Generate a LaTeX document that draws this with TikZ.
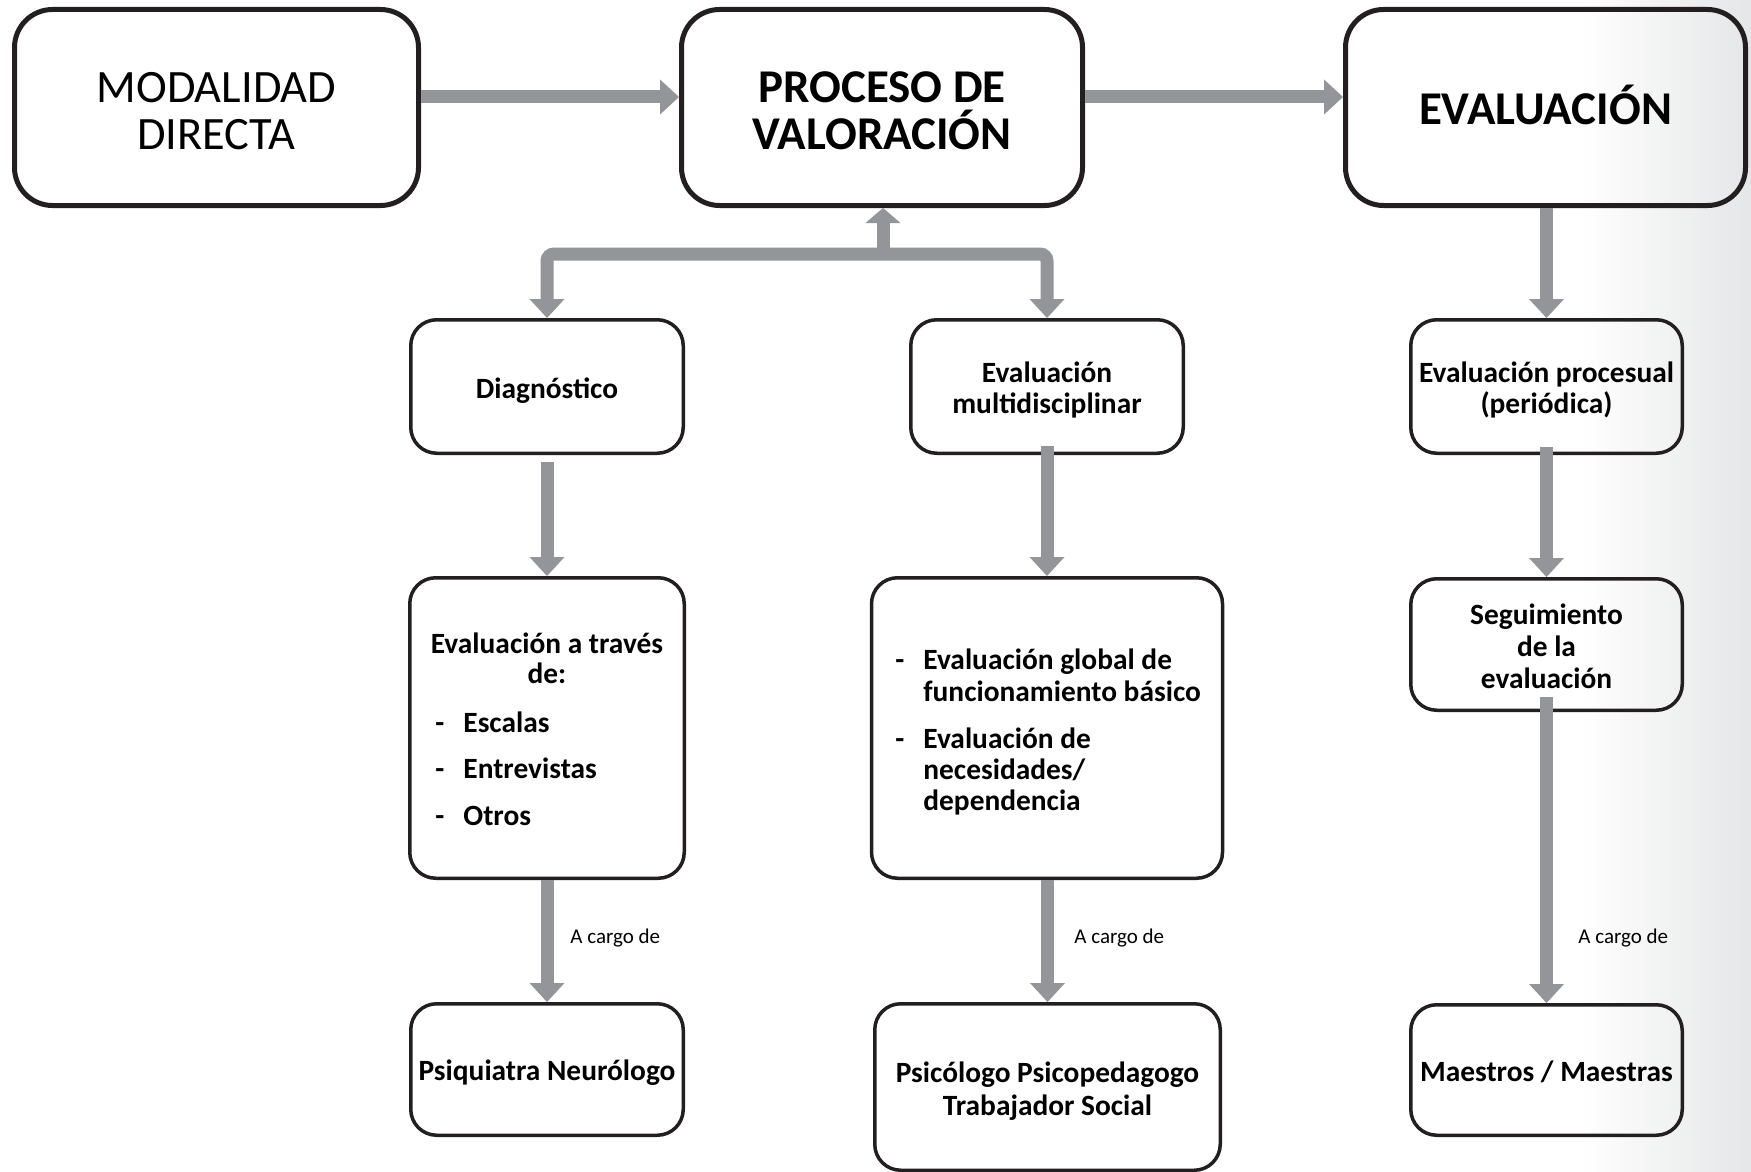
\documentclass[tikz,border=0pt]{standalone}
\usepackage{fontspec}
\setmainfont{Carlito}
\usetikzlibrary{arrows.meta}
\definecolor{arrowgray}{HTML}{939598}
\definecolor{boxline}{HTML}{231F20}
\definecolor{bggray}{HTML}{E6E7E8}
\begin{document}
\begin{tikzpicture}[x=0.5pt,y=-0.5pt,
  topbox/.style={draw=boxline, line width=2.5pt, rounded corners=19pt, minimum height=98pt, inner sep=0pt},
  midbox/.style={draw=boxline, line width=1.75pt, rounded corners=13pt, inner sep=0pt},
  garrow/.style={draw=arrowgray, line width=6.5pt, -{Triangle[width=17.5pt,length=9.5pt,line width=0pt]}},
  garrowup/.style={draw=arrowgray, line width=6.5pt, -{Triangle[width=17.5pt,length=7.5pt,line width=0pt]}},
  tt/.style={inner sep=0pt, anchor=base, font=\fontsize{23.2pt}{27pt}\selectfont},
  tb/.style={inner sep=0pt, anchor=base, font=\bfseries\fontsize{23.5pt}{27pt}\selectfont},
  tm/.style={inner sep=0pt, anchor=base, font=\bfseries\fontsize{14.7pt}{17pt}\selectfont},
  tml/.style={tm, anchor=base west},
  lbl/.style={inner sep=0pt, anchor=base west, font=\fontsize{10.5pt}{12pt}\selectfont}]

\useasboundingbox (0,0) rectangle (1751,1172);
\fill[white] (0,0) rectangle (1751,1172);
\shade[left color=white, right color=bggray] (1580,0) rectangle (1745,1172);
\fill[bggray] (1744,0) rectangle (1751,1172);

% boxes
\node[topbox, minimum width=202pt] (modal) at (216.5,107.5) {};
\node[topbox, minimum width=200.5pt] (proc) at (882,107.5) {};
\node[topbox, minimum width=200pt] (eval) at (1545.5,107.5) {};

\node[midbox, minimum width=136.25pt, minimum height=66.75pt] (diag) at (547,386.5) {};
\node[midbox, minimum width=136.25pt, minimum height=66.75pt] (mult) at (1047,386.5) {};
\node[midbox, minimum width=135.75pt, minimum height=66.75pt] (proc2) at (1546.5,386.5) {};

\node[midbox, minimum width=137.25pt, minimum height=150.25pt] (ev1) at (547,728) {};
\node[midbox, minimum width=175.5pt, minimum height=150.25pt] (ev2) at (1047,728) {};
\node[midbox, minimum width=135.75pt, minimum height=65.75pt] (seg) at (1546.5,644.5) {};

\node[midbox, minimum width=136.25pt, minimum height=65.75pt] (psi) at (547,1069.5) {};
\node[midbox, minimum width=172.75pt, minimum height=83.25pt] (psico) at (1047.5,1087) {};
\node[midbox, minimum width=135.75pt, minimum height=65.25pt] (maes) at (1546.5,1070) {};

% texts
\node[tt] (m1) at (216.5,103) {MODALIDAD};
\node[tt] (m2) at (216.5,149) {DIRECTA};
\node[tb] (p1) at (882,103) {PROCESO DE};
\node[tb] (p2) at (882,149) {VALORACIÓN};
\node[tb] (e1) at (1545.5,125) {EVALUACIÓN};

\node[tm] (d1) at (547,398) {Diagnóstico};
\node[tm] (u1) at (1047,382) {Evaluación};
\node[tm] (u2) at (1047,413) {multidisciplinar};
\node[tm] (r1) at (1546.5,382) {Evaluación procesual};
\node[tm] (r2) at (1546.5,413) {(periódica)};

\node[tm] (a1) at (547,653) {Evaluación a través};
\node[tm] (a2) at (547,683) {de:};
\node[tml] (ad1) at (435,732) {-};
\node[tml] (ai1) at (463,732) {Escalas};
\node[tml] (ad2) at (435,778) {-};
\node[tml] (ai2) at (463,778) {Entrevistas};
\node[tml] (ad3) at (435,825) {-};
\node[tml] (ai3) at (463,825) {Otros};

\node[tml] (bd1) at (895,669) {-};
\node[tml] (b1) at (923,669) {Evaluación global de};
\node[tml] (b2) at (923,701) {funcionamiento básico};
\node[tml] (bd2) at (895,748) {-};
\node[tml] (b3) at (923,748) {Evaluación de};
\node[tml] (b4) at (923,779) {necesidades/};
\node[tml] (b5) at (923,810) {dependencia};

\node[tm] (s1) at (1546.5,624) {Seguimiento};
\node[tm] (s2) at (1546.5,656) {de la};
\node[tm] (s3) at (1546.5,688) {evaluación};

\node[tm] (q1) at (547,1080) {Psiquiatra Neurólogo};
\node[tm] (w1) at (1047.5,1082) {Psicólogo Psicopedagogo};
\node[tm] (w2) at (1047.5,1115) {Trabajador Social};
\node[tm] (x1) at (1546.5,1081) {Maestros / Maestras};

% connectors
\coordinate (hy) at (0,97);
\coordinate (bar) at (883,254);
\draw[garrow] (modal.east |- hy) -- (proc.west |- hy);
\draw[garrow] (proc.east |- hy) -- (eval.west |- hy);
\draw[garrowup] (bar) -- (proc.south -| bar);
\draw[draw=arrowgray, line width=6.5pt, rounded corners=3.5pt,
  {Triangle[width=17.5pt,length=9.5pt,line width=0pt]}-{Triangle[width=17.5pt,length=9.5pt,line width=0pt]}]
  (diag.north) -- (diag.north |- bar) -- (mult.north |- bar) -- (mult.north);
\draw[garrow] (eval.south -| proc2.north) -- (proc2.north);

\draw[garrow] ([yshift=-3.5pt]diag.south) -- (ev1.north);
\draw[garrow] ([yshift=4.5pt]mult.south) -- (ev2.north -| mult.south);
\draw[garrow] ([yshift=4pt]proc2.south) -- (seg.north);

\draw[garrow] (ev1.south) -- (psi.north);
\draw[garrow] (ev2.south -| psico.north) -- (psico.north);
\draw[garrow] ([yshift=7.5pt]seg.south) -- (maes.north);

\node[lbl] (c1) at (570,943) {A cargo de};
\node[lbl] (c2) at (1074,943) {A cargo de};
\node[lbl] (c3) at (1578,943) {A cargo de};
\end{tikzpicture}
\end{document}
